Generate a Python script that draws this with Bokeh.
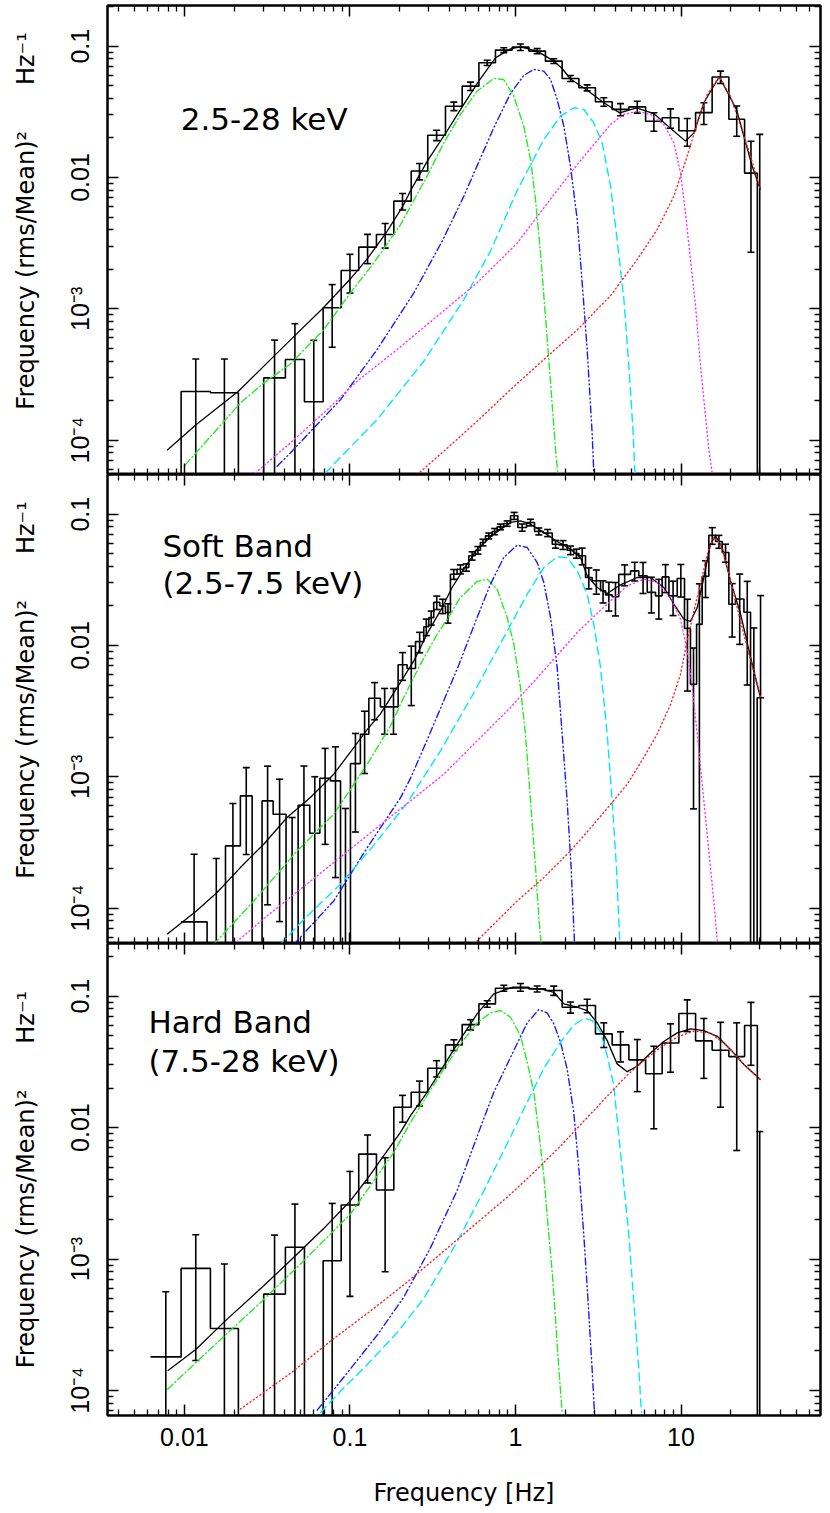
import numpy as np
from bokeh.plotting import figure
from bokeh.models import Range1d, LogAxis, FixedTicker, CustomJSTickFormatter, Label
from bokeh.layouts import column
from bokeh.embed import file_html
from bokeh.resources import INLINE

# ---------------- axes data ----------------
x_lim = (0.00343, 69.6)
y_lim = [(5.48e-5, 0.204), (5.38e-5, 0.2006), (6.45e-5, 0.2518)]
x_major = [0.01, 0.1, 1.0, 10.0]
x_major_labels = ["0.01", "0.1", "1", "10"]
y_major = [1e-4, 1e-3, 1e-2, 1e-1]
y_major_labels = ["10\u207b\u2074", "10\u207b\u00b3", "0.01", "0.1"]
x_label = "Frequency [Hz]"
y_label_text = "Frequency (rms/Mean)\u00b2" + "\u00a0" * 6 + "Hz\u207b\u00b9"
y_label_pad = [5, 5, 0]
panel_titles = [["2.5-28 keV"], ["Soft Band", "(2.5-7.5 keV)"], ["Hard Band", "(7.5-28 keV)"]]
title_pos = [[(0.0095, 0.0281)], [(0.00736, 0.0575), (0.00736, 0.0297)],
             [(0.00606, 0.0642), (0.00606, 0.0322)]]

# ---------------- histogram data (rms-normalised power x frequency) ----------------
edges_a_log = [-2.205, -2.020, -1.843, -1.674, -1.521, -1.390, -1.275, -1.162, -1.053, -0.947,
               -0.840, -0.735, -0.630, -0.530, -0.423, -0.322, -0.221, -0.121, -0.020, 0.081,
               0.181, 0.282, 0.383, 0.483, 0.584, 0.685, 0.786, 0.886, 0.987, 1.088,
               1.188, 1.289, 1.384, 1.461, 1.490]
p1_val = [0, 2.35e-4, 2.30e-4, 0, 2.98e-4, 4.11e-4, 1.96e-4, 1.02e-3, 1.96e-3, 2.95e-3,
          3.68e-3, 6.61e-3, 1.12e-2, 2.10e-2, 3.49e-2, 4.96e-2, 7.47e-2, 9.33e-2, 9.83e-2, 9.17e-2,
          7.69e-2, 5.68e-2, 4.82e-2, 3.77e-2, 3.30e-2, 3.45e-2, 2.68e-2, 2.85e-2, 2.27e-2, 3.12e-2,
          5.83e-2, 2.78e-2, 1.08e-2, 0]
p1_err = [0, 1.8e-4, 1.85e-4, 0, 2.8e-4, 3.6e-4, 3.8e-4, 5.1e-4, 6.4e-4, 7.4e-4,
          7.8e-4, 9.5e-4, 1.6e-3, 1.9e-3, 2.6e-3, 3.6e-3, 3.5e-3, 4.0e-3, 5.5e-3, 4.0e-3,
          3.2e-3, 3.0e-3, 2.5e-3, 2.8e-3, 3.5e-3, 3.6e-3, 4.3e-3, 4.8e-3, 5.4e-3, 5.9e-3,
          6.3e-3, 7.2e-3, 8.1e-3, 2.13e-2]
p3_val = [1.80e-4, 8.49e-4, 2.96e-4, 0, 5.41e-4, 1.23e-3, 0, 9.7e-4, 2.58e-3, 6.29e-3,
          3.35e-3, 1.43e-2, 1.86e-2, 2.83e-2, 4.26e-2, 6.08e-2, 8.74e-2, 0.1151, 0.1171, 0.1137,
          0.1104, 8.24e-2, 8.49e-2, 5.17e-2, 4.26e-2, 3.28e-2, 2.57e-2, 4.40e-2, 7.38e-2, 4.57e-2,
          3.88e-2, 3.47e-2, 5.98e-2, 0]
p3_err = [3.84e-4, 6.8e-4, 6.2e-4, 0, 9.8e-4, 1.39e-3, 0, 1.68e-3, 2.06e-3, 2.5e-3,
          2.55e-3, 3.3e-3, 4.0e-3, 4.0e-3, 4.0e-3, 5.5e-3, 5.0e-3, 6.0e-3, 8.0e-3, 6.0e-3,
          9.0e-3, 8.0e-3, 1.0e-2, 1.1e-2, 1.1e-2, 1.4e-2, 1.59e-2, 1.76e-2, 2.0e-2, 2.2e-2,
          2.45e-2, 2.8e-2, 3.0e-2, 9.33e-3]
edges_b_log = [-2.020, -1.863, -1.752, -1.662, -1.591, -1.531, -1.464, -1.386, -1.313, -1.243,
               -1.182, -1.118, -1.057, -0.997, -0.937, -0.886, -0.816, -0.765, -0.709, -0.655,
               -0.604, -0.554, -0.524, -0.494, -0.457, -0.423, -0.393, -0.353, -0.312, -0.282,
               -0.242, -0.212, -0.181, -0.141, -0.111, -0.071, -0.030, 0.014, 0.067, 0.115,
               0.167, 0.222, 0.262, 0.312, 0.353, 0.383, 0.423, 0.463, 0.514, 0.544,
               0.584, 0.624, 0.695, 0.745, 0.796, 0.846, 0.886, 0.927, 0.977, 1.021,
               1.057, 1.094, 1.128, 1.168, 1.209, 1.249, 1.289, 1.329, 1.380, 1.420,
               1.460, 1.501]
p2_val = [7.86e-5, 0, 2.98e-4, 7.16e-4, 0, 6.56e-4, 5.19e-4, 0, 6.08e-4, 3.72e-4,
          9.76e-4, 9.31e-4, 0, 1.26e-3, 2.11e-3, 3.97e-3, 3.41e-3, 3.41e-3, 7.13e-3, 6.69e-3,
          1.07e-2, 1.39e-2, 1.63e-2, 2.13e-2, 2.00e-2, 1.78e-2, 3.49e-2, 3.81e-2, 3.93e-2, 4.82e-2,
          5.32e-2, 6.09e-2, 6.84e-2, 7.38e-2, 8.01e-2, 8.49e-2, 9.72e-2, 7.92e-2, 8.65e-2, 7.40e-2,
          7.20e-2, 5.91e-2, 5.84e-2, 5.32e-2, 5.02e-2, 4.82e-2, 3.30e-2, 3.11e-2, 2.61e-2, 2.43e-2,
          2.35e-2, 3.48e-2, 3.70e-2, 3.39e-2, 2.54e-2, 2.39e-2, 3.33e-2, 2.39e-2, 3.24e-2, 1.35e-2,
          5.07e-3, 1.45e-2, 3.37e-2, 6.90e-2, 6.20e-2, 5.11e-2, 2.06e-2, 2.26e-2, 1.79e-2, 0,
          4.0e-3]
p2_err = [1.79e-4, 2.39e-4, 3.29e-4, 4.6e-4, 0, 5.5e-4, 4.4e-4, 4.9e-4, 6.0e-4, 6.3e-4,
          6.7e-4, 7.6e-4, 5.74e-4, 8.8e-4, 1.05e-3, 1.25e-3, 1.3e-3, 1.3e-3, 1.7e-3, 3.2e-3,
          1.9e-3, 2.0e-3, 2.0e-3, 2.5e-3, 2.5e-3, 3.0e-3, 3.0e-3, 3.0e-3, 2.5e-3, 3.5e-3,
          3.5e-3, 3.5e-3, 3.5e-3, 4.0e-3, 4.0e-3, 4.0e-3, 6.0e-3, 5.0e-3, 5.0e-3, 4.5e-3,
          4.5e-3, 4.0e-3, 4.5e-3, 4.0e-3, 4.0e-3, 7.0e-3, 6.0e-3, 6.5e-3, 5.0e-3, 6.0e-3,
          6.7e-3, 6.3e-3, 6.0e-3, 9.0e-3, 7.7e-3, 8.0e-3, 8.0e-3, 7.0e-3, 9.0e-3, 9.0e-3,
          4.5e-3, 1.5e-2, 1.05e-2, 1.0e-2, 7.0e-3, 8.0e-3, 9.0e-3, 1.24e-2, 1.29e-2, 1.36e-2,
          2.0e-2]

# ---------------- model curves: log10(Hz), log10(power) ----------------
p1_tot_lf = [-2.105, -1.928, -1.674, -1.456, -1.327, -1.162, -1.001, -0.896, -0.786, -0.681,
             -0.634, -0.530, -0.423, -0.322, -0.222, -0.121, -0.030, 0.030, 0.131, 0.232,
             0.282, 0.332, 0.433, 0.534, 0.630, 0.731, 0.836, 0.933, 1.027, 1.078,
             1.138, 1.231, 1.335, 1.430, 1.480]
p1_tot_lp = [-4.077, -3.881, -3.627, -3.356, -3.196, -2.993, -2.777, -2.620, -2.430, -2.220,
             -2.100, -1.870, -1.665, -1.462, -1.266, -1.089, -1.020, -1.005, -1.038, -1.114,
             -1.170, -1.250, -1.335, -1.431, -1.508, -1.469, -1.513, -1.622, -1.723, -1.660,
             -1.431, -1.233, -1.482, -1.914, -2.091]
p1_g_lf = [-1.994, -1.823, -1.662, -1.521, -1.360, -1.158, -0.997, -0.856, -0.695,
           -0.634, -0.534, -0.433, -0.332, -0.232, -0.131, -0.071, -0.010, 0.050, 0.091,
           0.121, 0.151, 0.181, 0.212, 0.242, 0.256]
p1_g_lp = [-4.186, -3.945, -3.716, -3.564, -3.420, -3.158, -2.878, -2.650, -2.360,
           -2.220, -1.990, -1.736, -1.520, -1.343, -1.246, -1.254, -1.381, -1.609, -1.863,
           -2.168, -2.574, -3.056, -3.564, -4.072, -4.262]
p1_b_lf = [-1.440, -1.360, -1.057, -0.836, -0.614, -0.443, -0.312, -0.222, -0.131, -0.030,
           0.050, 0.111, 0.171, 0.212, 0.252, 0.292, 0.332, 0.373, 0.403, 0.433, 0.463, 0.473]
p1_b_lp = [-4.199, -4.097, -3.691, -3.310, -2.878, -2.485, -2.142, -1.883, -1.620, -1.360,
           -1.223, -1.177, -1.190, -1.254, -1.406, -1.609, -1.914, -2.320, -2.802, -3.310,
           -3.945, -4.249]
p1_c_lf = [-1.148, -0.836, -0.554, -0.312, -0.151, 0.010, 0.171, 0.272, 0.353, 0.413,
           0.473, 0.524, 0.574, 0.614, 0.655, 0.685, 0.711, 0.721]
p1_c_lp = [-4.249, -3.843, -3.399, -2.929, -2.560, -2.100, -1.711, -1.533, -1.469, -1.482,
           -1.584, -1.736, -2.066, -2.472, -2.929, -3.437, -3.945, -4.249]
p1_m_lf = [-1.571, -1.360, -1.158, -0.957, -0.715, -0.473, -0.232, 0.010, 0.171, 0.373,
           0.574, 0.655, 0.735, 0.816, 0.896, 0.957, 0.997, 1.027, 1.057, 1.088,
           1.118, 1.148, 1.168, 1.188]
p1_m_lp = [-4.249, -4.021, -3.792, -3.551, -3.310, -3.056, -2.802, -2.500, -2.231, -1.901,
           -1.596, -1.520, -1.495, -1.520, -1.596, -1.736, -1.965, -2.269, -2.625, -2.980,
           -3.437, -3.818, -4.072, -4.249]
p1_r_lf = [-0.594, -0.433, -0.232, -0.030, 0.171, 0.373, 0.574, 0.735, 0.856, 0.957,
           1.037, 1.098, 1.158, 1.231, 1.299, 1.360, 1.420, 1.480]
p1_r_lp = [-4.262, -4.084, -3.856, -3.615, -3.386, -3.160, -2.900, -2.625, -2.396, -2.142,
           -1.838, -1.584, -1.368, -1.233, -1.381, -1.609, -1.838, -2.091]
p2_tot_lf = [-2.105, -1.928, -1.803, -1.662, -1.521, -1.380, -1.239, -1.098, -0.977, -0.896,
             -0.816, -0.715, -0.614, -0.524, -0.443, -0.383, -0.332, -0.232, -0.131, -0.030,
             0.030, 0.091, 0.171, 0.252, 0.332, 0.393, 0.433, 0.494, 0.554, 0.634,
             0.735, 0.816, 0.896, 0.957, 1.017, 1.057, 1.098, 1.138, 1.178, 1.209,
             1.249, 1.299, 1.360, 1.420, 1.480]
p2_tot_lp = [-4.199, -4.021, -3.881, -3.691, -3.513, -3.310, -3.158, -2.980, -2.777, -2.640,
             -2.520, -2.320, -2.117, -1.888, -1.711, -1.558, -1.457, -1.266, -1.152, -1.063,
             -1.051, -1.076, -1.139, -1.208, -1.266, -1.330, -1.469, -1.558, -1.604, -1.538,
             -1.482, -1.482, -1.558, -1.685, -1.799, -1.817, -1.711, -1.482, -1.228, -1.165,
             -1.254, -1.508, -1.761, -2.091, -2.396]
p2_g_lf = [-1.823, -1.581, -1.319, -1.098, -0.896, -0.755, -0.675, -0.574, -0.473, -0.393,
           -0.337, -0.232, -0.171, -0.111, -0.050, -0.010, 0.030, 0.060, 0.091, 0.121,
           0.141, 0.155]
p2_g_lp = [-4.275, -3.945, -3.564, -3.285, -2.904, -2.612, -2.396, -2.142, -1.914, -1.762,
           -1.640, -1.513, -1.495, -1.571, -1.787, -1.990, -2.320, -2.675, -3.183, -3.691,
           -4.072, -4.275]
p2_b_lf = [-1.339, -1.098, -0.896, -0.695, -0.634, -0.534, -0.494, -0.393, -0.343, -0.232,
           -0.151, -0.071, 0.010, 0.071, 0.131, 0.171, 0.212, 0.252, 0.282, 0.312,
           0.336, 0.357]
p2_b_lp = [-4.275, -3.945, -3.540, -3.160, -3.010, -2.720, -2.600, -2.300, -2.150, -1.787,
           -1.533, -1.330, -1.236, -1.254, -1.368, -1.520, -1.787, -2.168, -2.675, -3.183,
           -3.691, -4.275]
p2_c_lf = [-1.420, -1.259, -1.057, -0.856, -0.655, -0.453, -0.252, -0.050, 0.071, 0.171,
           0.252, 0.312, 0.373, 0.433, 0.473, 0.514, 0.554, 0.584, 0.610, 0.630]
p2_c_lp = [-4.275, -4.060, -3.818, -3.520, -3.200, -2.802, -2.360, -1.890, -1.609, -1.406,
           -1.325, -1.330, -1.431, -1.609, -1.838, -2.168, -2.675, -3.183, -3.691, -4.249]
p2_m_lf = [-1.702, -1.501, -1.299, -1.098, -0.836, -0.634, -0.433, -0.232, -0.030, 0.171,
           0.373, 0.574, 0.675, 0.775, 0.856, 0.937, 0.997, 1.037, 1.068, 1.098,
           1.138, 1.168, 1.198, 1.219]
p2_m_lp = [-4.275, -4.059, -3.856, -3.653, -3.386, -3.183, -2.980, -2.726, -2.472, -2.190,
           -1.900, -1.660, -1.546, -1.495, -1.520, -1.634, -1.799, -2.041, -2.320, -2.675,
           -3.183, -3.564, -3.945, -4.249]
p2_r_lf = [-0.252, -0.131, 0.010, 0.171, 0.332, 0.473, 0.574, 0.675, 0.775, 0.856,
           0.937, 0.997, 1.037, 1.078, 1.118, 1.158, 1.198, 1.239, 1.279, 1.339, 1.400, 1.480]
p2_r_lp = [-4.275, -4.122, -3.945, -3.767, -3.564, -3.361, -3.210, -3.056, -2.853, -2.675,
           -2.447, -2.218, -1.965, -1.736, -1.533, -1.304, -1.177, -1.228, -1.406, -1.711,
           -2.015, -2.396]
p3_tot_lf = [-2.101, -1.928, -1.742, -1.521, -1.339, -1.162, -0.997, -0.896, -0.796, -0.695,
             -0.634, -0.534, -0.433, -0.332, -0.232, -0.131, -0.030, 0.071, 0.171, 0.232,
             0.292, 0.373, 0.433, 0.494, 0.554, 0.614, 0.675, 0.735, 0.816, 0.896,
             0.977, 1.057, 1.138, 1.219, 1.299, 1.380, 1.480]
p3_tot_lp = [-3.850, -3.685, -3.457, -3.203, -2.987, -2.772, -2.556, -2.391, -2.213, -2.036,
             -1.909, -1.731, -1.528, -1.325, -1.135, -0.982, -0.937, -0.939, -0.949, -0.970,
             -1.058, -1.084, -1.109, -1.203, -1.338, -1.515, -1.574, -1.533, -1.432, -1.345,
             -1.279, -1.249, -1.262, -1.305, -1.405, -1.520, -1.635]
p3_g_lf = [-2.101, -1.823, -1.561, -1.299, -0.997, -0.735, -0.634, -0.534, -0.433, -0.332,
           -0.232, -0.151, -0.091, -0.030, 0.030, 0.071, 0.111, 0.141, 0.171, 0.195,
           0.222, 0.242, 0.262, 0.282]
p3_g_lp = [-3.990, -3.660, -3.355, -3.038, -2.657, -2.188, -1.959, -1.756, -1.553, -1.363,
           -1.203, -1.127, -1.109, -1.160, -1.300, -1.503, -1.731, -2.036, -2.366, -2.721,
           -3.102, -3.457, -3.838, -4.168]
p3_b_lf = [-1.198, -1.057, -0.836, -0.675, -0.514, -0.353, -0.212, -0.131, -0.030, 0.071,
           0.141, 0.191, 0.232, 0.272, 0.312, 0.352, 0.383, 0.413, 0.439, 0.463, 0.477]
p3_b_lp = [-4.150, -3.930, -3.580, -3.290, -2.915, -2.480, -2.000, -1.731, -1.465, -1.203,
           -1.102, -1.127, -1.211, -1.350, -1.553, -1.883, -2.315, -2.822, -3.330, -3.838,
           -4.168]
p3_c_lf = [-1.178, -1.037, -0.916, -0.715, -0.554, -0.353, -0.191, -0.030, 0.050, 0.171,
           0.272, 0.352, 0.413, 0.463, 0.514, 0.554, 0.594, 0.624, 0.655, 0.685,
           0.715, 0.745, 0.761]
p3_c_lp = [-4.168, -3.980, -3.830, -3.560, -3.300, -2.870, -2.480, -2.070, -1.860, -1.550,
           -1.350, -1.220, -1.168, -1.185, -1.274, -1.452, -1.680, -2.061, -2.442, -2.822,
           -3.330, -3.838, -4.168]
p3_r_lf = [-1.662, -1.360, -1.118, -0.876, -0.655, -0.453, -0.252, -0.050, 0.091, 0.272,
           0.473, 0.675, 0.775, 0.876, 0.977, 1.078, 1.178, 1.279, 1.380, 1.480]
p3_r_lp = [-4.142, -3.870, -3.625, -3.395, -3.176, -2.961, -2.745, -2.529, -2.365, -2.140,
           -1.870, -1.600, -1.490, -1.390, -1.310, -1.265, -1.280, -1.380, -1.520, -1.635]

# ---------------- styling ----------------
GREEN, BLUE, CYAN, MAGENTA, RED = "#22ee22", "#1a1aff", "#00e8ff", "#ff30ff", "#ff2020"
STYLES = {
    "g": dict(line_color=GREEN, line_dash="7 3 1 3"),
    "b": dict(line_color=BLUE, line_dash="7 3 1 3 1 3"),
    "c": dict(line_color=CYAN, line_dash="8 5"),
    "m": dict(line_color=MAGENTA, line_dash="1 3"),
    "r": dict(line_color=RED, line_dash="1 3"),
}
TICK_FONT = "Liberation Sans"
LABEL_FONT = "DejaVu Sans"
FLOOR = 1e-7

x_minor = [m * 10.0 ** e for e in range(-3, 2) for m in range(2, 10)
           if x_lim[0] <= m * 10.0 ** e <= x_lim[1]]
y_minor = [m * 10.0 ** e for e in range(-5, 0) for m in range(2, 10)
           if 4e-5 <= m * 10.0 ** e <= 0.3]

fmt_code = """
const lt = Math.log10(tick);
for (let i = 0; i < t.length; i++) {
  if (Math.abs(Math.log10(t[i]) - lt) < 1e-6) { return l[i]; }
}
return "";
"""
blank_code = 'return " ";'

xr = Range1d(*x_lim)


def style_axis(ax, ticker, labels=None):
    ax.ticker = ticker
    ax.major_tick_in = 11
    ax.major_tick_out = 0
    ax.minor_tick_in = 6
    ax.minor_tick_out = 0
    ax.major_tick_line_color = "black"
    ax.minor_tick_line_color = "black"
    ax.major_tick_line_width = 1.5
    ax.minor_tick_line_width = 1.3
    ax.axis_line_color = "black"
    ax.axis_line_width = 2
    if labels is None:
        ax.formatter = CustomJSTickFormatter(code=blank_code)
        ax.major_label_text_font_size = "1px"
        ax.major_label_text_alpha = 0
        ax.major_label_standoff = 0
    else:
        ax.formatter = CustomJSTickFormatter(args=dict(t=labels[0], l=labels[1]), code=fmt_code)
        ax.major_label_text_font = TICK_FONT
        ax.major_label_text_font_size = "25px"
        ax.major_label_text_color = "black"


def step_xy(edges, vals):
    xs, ys = [], []
    for i, v in enumerate(vals):
        vv = v if v > 0 else FLOOR
        xs += [edges[i], edges[i + 1]]
        ys += [vv, vv]
    return xs, ys


def make_panel(idx, frame_h, top_border, edges_log, vals, errs, curves, bottom_labels):
    ylo, yhi = y_lim[idx]
    p = figure(x_axis_type="log", y_axis_type="log", x_range=xr, y_range=Range1d(ylo, yhi),
               frame_width=713, frame_height=frame_h, output_backend="svg",
               toolbar_location=None, min_border_left=107, min_border_right=2,
               min_border_top=top_border, min_border_bottom=0)
    p.xgrid.visible = False
    p.ygrid.visible = False
    p.outline_line_color = "black"
    p.outline_line_width = 2
    p.background_fill_color = "white"
    p.border_fill_color = "white"

    xt = FixedTicker(ticks=x_major, minor_ticks=x_minor)
    yt = FixedTicker(ticks=y_major, minor_ticks=y_minor)

    bx = p.xaxis[0]
    if bottom_labels:
        style_axis(bx, xt, (x_major, x_major_labels))
        bx.major_label_standoff = 12
        bx.axis_label = x_label
        bx.axis_label_text_font = LABEL_FONT
        bx.axis_label_text_font_size = "24px"
        bx.axis_label_text_font_style = "normal"
        bx.axis_label_text_color = "black"
        bx.axis_label_standoff = 30
    else:
        style_axis(bx, xt)
    ly = p.yaxis[0]
    style_axis(ly, yt, (y_major, y_major_labels))
    ly.major_label_orientation = "vertical"
    ly.major_label_standoff = 13
    ly.axis_label = "\u00a0" * y_label_pad[idx] + y_label_text
    ly.axis_label_text_font = LABEL_FONT
    ly.axis_label_text_font_size = "24px"
    ly.axis_label_text_font_style = "normal"
    ly.axis_label_text_color = "black"
    ly.axis_label_standoff = 24

    top = LogAxis()
    style_axis(top, FixedTicker(ticks=x_major, minor_ticks=x_minor))
    p.add_layout(top, "above")
    right = LogAxis()
    style_axis(right, FixedTicker(ticks=y_major, minor_ticks=y_minor))
    p.add_layout(right, "right")

    edges = [10.0 ** e for e in edges_log]
    xs, ys = step_xy(edges, vals)
    p.line(xs, ys, line_color="black", line_width=1.6)

    fc, hi, lo, fc_lo, lo_cap = [], [], [], [], []
    for i, (v, e) in enumerate(zip(vals, errs)):
        if e <= 0:
            continue
        c = float(np.sqrt(edges[i] * edges[i + 1]))
        fc.append(c)
        hi.append(v + e)
        lo.append(max(v - e, FLOOR))
        if v - e > 0:
            fc_lo.append(c)
            lo_cap.append(v - e)
    p.segment(x0=fc, y0=lo, x1=fc, y1=hi, line_color="black", line_width=1.6)
    p.scatter(x=fc, y=hi, marker="dash", size=7, line_color="black", line_width=1.6)
    p.scatter(x=fc_lo, y=lo_cap, marker="dash", size=7, line_color="black", line_width=1.6)

    tot_lf, tot_lp = curves["tot"]
    p.line([10.0 ** a for a in tot_lf], [10.0 ** b for b in tot_lp],
           line_color="black", line_width=1.3)
    for key in ["g", "b", "c", "m", "r"]:
        if key not in curves:
            continue
        lf, lp = curves[key]
        p.line([10.0 ** a for a in lf], [10.0 ** b for b in lp], line_width=1.4,
               line_cap="round", **STYLES[key])

    for text, (tx, ty) in zip(panel_titles[idx], title_pos[idx]):
        p.add_layout(Label(x=tx, y=ty, text=text, text_font=LABEL_FONT,
                           text_font_size="31px", text_color="black",
                           text_baseline="alphabetic"))
    return p


p1 = make_panel(0, 469, 5, edges_a_log, p1_val, p1_err,
                {"tot": (p1_tot_lf, p1_tot_lp), "g": (p1_g_lf, p1_g_lp), "b": (p1_b_lf, p1_b_lp),
                 "c": (p1_c_lf, p1_c_lp), "m": (p1_m_lf, p1_m_lp), "r": (p1_r_lf, p1_r_lp)}, False)
p2 = make_panel(1, 469, 0, edges_b_log, p2_val, p2_err,
                {"tot": (p2_tot_lf, p2_tot_lp), "g": (p2_g_lf, p2_g_lp), "b": (p2_b_lf, p2_b_lp),
                 "c": (p2_c_lf, p2_c_lp), "m": (p2_m_lf, p2_m_lp), "r": (p2_r_lf, p2_r_lp)}, False)
p3 = make_panel(2, 472, 0, edges_a_log, p3_val, p3_err,
                {"tot": (p3_tot_lf, p3_tot_lp), "g": (p3_g_lf, p3_g_lp), "b": (p3_b_lf, p3_b_lp),
                 "c": (p3_c_lf, p3_c_lp), "r": (p3_r_lf, p3_r_lp)}, True)

layout = column(p1, p2, p3, spacing=0)
open("out.html", "w").write(file_html(layout, INLINE))
